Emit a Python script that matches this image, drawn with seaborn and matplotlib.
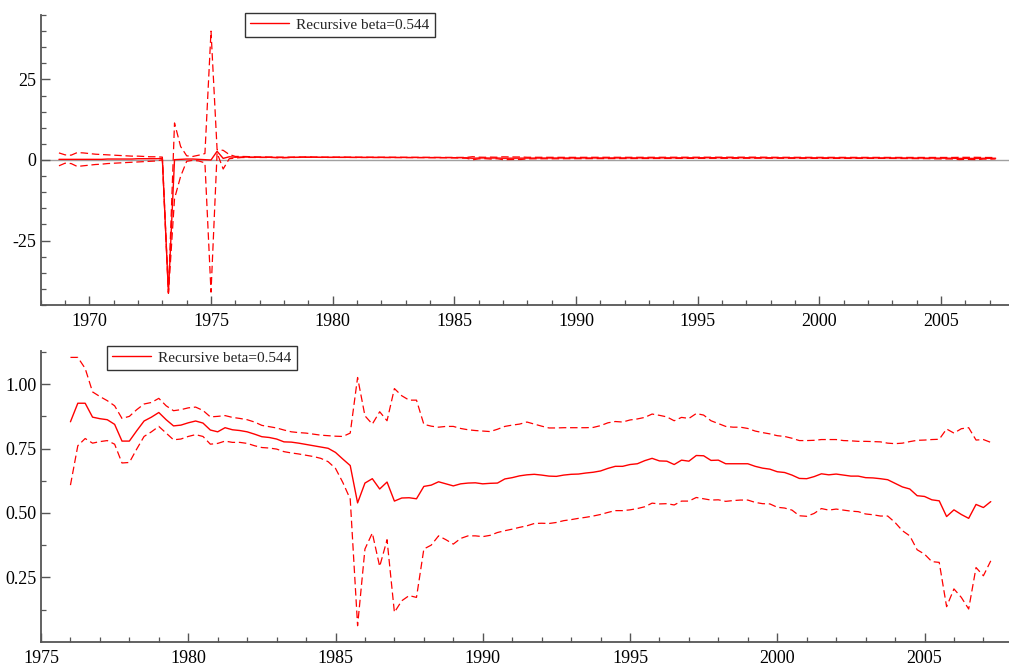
import numpy as np
import pandas as pd
import matplotlib
matplotlib.use("Agg")
import matplotlib.pyplot as plt
import seaborn as sns
from matplotlib.ticker import MultipleLocator, FixedLocator, FormatStrFormatter

# ---------------- data (quarterly) ----------------
LABEL = "Recursive beta=0.544"

# full-sample panel starts 1968Q4, lower panel starts 1976Q1; both end 2007Q2
early_start = 1968.75
late_start = 1976.0

# 1968Q4 .. 1975Q4 (only visible in the upper panel)
early_beta = [0.2,
              0.2, 0.2, 0.2, 0.2,
              0.2, 0.2, 0.2, 0.3,
              0.3, 0.3, 0.3, 0.3,
              0.4, 0.4, 0.4, 0.4,
              0.5, -41.2, 0.1, 0.2,
              0.3, 0.3, 0.2, 0.1,
              0.0, 2.7, 0.5, 1.0]
early_upper = [2.2,
               1.6, 1.5, 2.3, 2.2,
               2.0, 1.8, 1.7, 1.6,
               1.5, 1.4, 1.3, 1.2,
               1.2, 1.1, 1.0, 1.0,
               0.9, -41.0, 11.5, 4.2,
               1.3, 1.1, 1.5, 2.0,
               40.0, 3.2, 3.0, 1.7]
early_lower = [-1.8,
               -1.0, -1.1, -2.0, -1.8,
               -1.6, -1.4, -1.3, -1.1,
               -1.0, -0.9, -0.8, -0.7,
               -0.6, -0.5, -0.4, -0.3,
               0.1, -41.4, -12.0, -5.1,
               -0.4, -0.1, -0.3, -0.9,
               -41.0, 2.2, -2.8, 0.4]

# 1976Q1 .. 2007Q2
beta = [0.854, 0.926, 0.926, 0.872,
        0.866, 0.862, 0.844, 0.779,
        0.779, 0.819, 0.857, 0.872,
        0.890, 0.862, 0.838, 0.841,
        0.850, 0.857, 0.849, 0.822,
        0.815, 0.831, 0.823, 0.820,
        0.815, 0.806, 0.796, 0.793,
        0.787, 0.776, 0.775, 0.771,
        0.766, 0.761, 0.756, 0.751,
        0.735, 0.709, 0.684, 0.539,
        0.616, 0.633, 0.593, 0.620,
        0.546, 0.558, 0.559, 0.555,
        0.603, 0.608, 0.621, 0.613,
        0.605, 0.613, 0.616, 0.617,
        0.613, 0.615, 0.616, 0.632,
        0.637, 0.644, 0.648, 0.650,
        0.647, 0.643, 0.642, 0.647,
        0.650, 0.651, 0.655, 0.658,
        0.663, 0.673, 0.681, 0.681,
        0.688, 0.691, 0.703, 0.712,
        0.702, 0.701, 0.688, 0.705,
        0.701, 0.723, 0.722, 0.704,
        0.705, 0.691, 0.691, 0.691,
        0.691, 0.681, 0.674, 0.670,
        0.660, 0.657, 0.647, 0.634,
        0.633, 0.641, 0.652, 0.648,
        0.651, 0.647, 0.643, 0.643,
        0.637, 0.636, 0.633, 0.629,
        0.615, 0.601, 0.593, 0.567,
        0.564, 0.551, 0.547, 0.486,
        0.512, 0.494, 0.479, 0.533,
        0.521, 0.544]
upper = [1.104, 1.104, 1.061, 0.970,
         0.952, 0.936, 0.916, 0.867,
         0.875, 0.901, 0.923, 0.929,
         0.945, 0.916, 0.897, 0.901,
         0.908, 0.911, 0.898, 0.873,
         0.875, 0.878, 0.871, 0.867,
         0.862, 0.853, 0.840, 0.835,
         0.830, 0.822, 0.815, 0.812,
         0.810, 0.806, 0.802, 0.800,
         0.798, 0.797, 0.810, 1.026,
         0.877, 0.845, 0.893, 0.858,
         0.983, 0.955, 0.938, 0.938,
         0.844, 0.837, 0.833, 0.836,
         0.836, 0.828, 0.823, 0.820,
         0.818, 0.816, 0.825, 0.836,
         0.841, 0.845, 0.853, 0.845,
         0.837, 0.830, 0.830, 0.831,
         0.831, 0.831, 0.831, 0.832,
         0.839, 0.850, 0.855, 0.853,
         0.861, 0.865, 0.871, 0.884,
         0.879, 0.873, 0.858, 0.871,
         0.867, 0.886, 0.880, 0.858,
         0.847, 0.836, 0.833, 0.833,
         0.828, 0.818, 0.812, 0.807,
         0.800, 0.797, 0.790, 0.781,
         0.781, 0.782, 0.785, 0.785,
         0.785, 0.781, 0.780, 0.778,
         0.778, 0.777, 0.776, 0.771,
         0.769, 0.771, 0.777, 0.782,
         0.783, 0.785, 0.786, 0.826,
         0.810, 0.827, 0.831, 0.783,
         0.785, 0.774]
lower = [0.608, 0.761, 0.789, 0.771,
         0.777, 0.781, 0.767, 0.694,
         0.696, 0.748, 0.797, 0.815,
         0.836, 0.810, 0.784, 0.787,
         0.797, 0.804, 0.797, 0.767,
         0.770, 0.779, 0.774, 0.774,
         0.770, 0.761, 0.754, 0.752,
         0.748, 0.738, 0.733, 0.729,
         0.724, 0.719, 0.712, 0.699,
         0.673, 0.618, 0.554, 0.062,
         0.360, 0.422, 0.292, 0.396,
         0.114, 0.159, 0.179, 0.172,
         0.360, 0.375, 0.411, 0.396,
         0.379, 0.401, 0.411, 0.411,
         0.408, 0.413, 0.424, 0.431,
         0.437, 0.444, 0.450, 0.459,
         0.460, 0.459, 0.463, 0.470,
         0.474, 0.479, 0.483, 0.488,
         0.494, 0.502, 0.509, 0.509,
         0.512, 0.517, 0.524, 0.538,
         0.535, 0.536, 0.531, 0.546,
         0.546, 0.560, 0.555, 0.550,
         0.551, 0.545, 0.548, 0.550,
         0.550, 0.541, 0.536, 0.535,
         0.522, 0.519, 0.511, 0.489,
         0.487, 0.498, 0.517, 0.511,
         0.515, 0.511, 0.507, 0.505,
         0.496, 0.493, 0.488, 0.488,
         0.463, 0.431, 0.411, 0.357,
         0.340, 0.311, 0.308, 0.136,
         0.205, 0.172, 0.127, 0.288,
         0.256, 0.314]

# ---------------- style ----------------
sns.set_style("ticks")
plt.rcParams['font.family'] = ['Liberation Serif', 'DejaVu Serif']
plt.rcParams['axes.unicode_minus'] = False

RED = '#ff0000'
SPINE = '#555555'
DASH = (0, (6, 3))

fig = plt.figure(figsize=(10.09, 6.66), dpi=100)
ax1 = fig.add_axes([40.7 / 1009, 1 - 305 / 666, 1 - 40.7 / 1009, 290 / 666])
ax2 = fig.add_axes([41 / 1009, 1 - 641.7 / 666, 1 - 41 / 1009, 291 / 666])


def quarters(start, n):
    return start + 0.25 * np.arange(n)


full_b = early_beta + beta
full_u = early_upper + upper
full_l = early_lower + lower
df_top = pd.DataFrame({'t': quarters(early_start, len(full_b)),
                       'beta': full_b, 'upper': full_u, 'lower': full_l})
df_bot = pd.DataFrame({'t': quarters(late_start, len(beta)),
                       'beta': beta, 'upper': upper, 'lower': lower})


def draw(ax, df):
    sns.lineplot(data=df, x='t', y='upper', ax=ax, color=RED, lw=0.9,
                 linestyle=DASH, label='_nolegend_')
    sns.lineplot(data=df, x='t', y='lower', ax=ax, color=RED, lw=0.9,
                 linestyle=DASH, label='_nolegend_')
    sns.lineplot(data=df, x='t', y='beta', ax=ax, color=RED, lw=1.0,
                 label=LABEL)
    ax.set_xlabel('')
    ax.set_ylabel('')
    for s in ['top', 'right']:
        ax.spines[s].set_visible(False)
    for s in ['left', 'bottom']:
        ax.spines[s].set_color(SPINE)
        ax.spines[s].set_linewidth(1.3)
    ax.xaxis.set_major_locator(MultipleLocator(5))
    ax.xaxis.set_minor_locator(MultipleLocator(1))
    ax.tick_params(which='major', direction='in', length=6.5, width=1.0,
                   color=SPINE, labelcolor='black', labelsize=13)
    ax.tick_params(which='minor', direction='in', length=3.5, width=0.9,
                   color=SPINE)
    ax.tick_params(axis='y', pad=3)
    ax.tick_params(axis='x', pad=6)
    handles = [l for l in ax.get_lines() if l.get_label() == LABEL]
    return handles


h1 = draw(ax1, df_top)
ax1.axhline(0, color='#a0a0a0', lw=1.0, zorder=0)
ax1.set_xlim(1968, 1968 + (1009 - 40.7) / 24.33)
ax1.set_ylim(-45, 45)
ax1.yaxis.set_major_locator(FixedLocator([-25, 0, 25]))
ax1.yaxis.set_minor_locator(MultipleLocator(5))

h2 = draw(ax2, df_bot)
ax2.set_xlim(1975, 1975 + (1009 - 41) / 29.45)
ax2.set_ylim(0, 1.13)
ax2.yaxis.set_major_locator(FixedLocator([0.25, 0.5, 0.75, 1.0]))
ax2.yaxis.set_minor_locator(FixedLocator([0.125, 0.375, 0.625, 0.875, 1.125]))
ax2.yaxis.set_major_formatter(FormatStrFormatter('%.2f'))

leg_kw = dict(loc='upper left', bbox_transform=fig.transFigure, borderaxespad=0,
              fontsize=11, fancybox=False, framealpha=1, edgecolor='#333333',
              borderpad=0.35, handlelength=2.55, handletextpad=0.45)
for ax, h, anchor in [(ax1, h1, (245 / 1009, 1 - 12.7 / 666)),
                      (ax2, h2, (107 / 1009, 1 - 345.7 / 666))]:
    lg = ax.legend(handles=h, labels=[LABEL], bbox_to_anchor=anchor, **leg_kw)
    lg.get_frame().set_linewidth(1.0)

fig.savefig('out.png', dpi=100)
